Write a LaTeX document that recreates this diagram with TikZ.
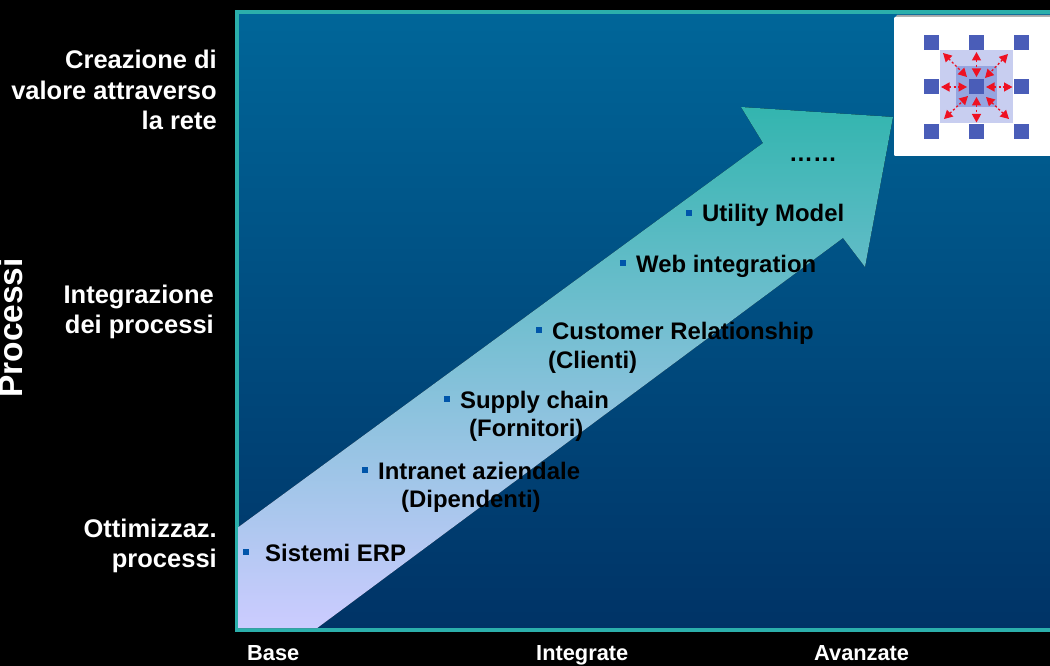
\documentclass[tikz,border=0pt]{standalone}
\usepackage{fontspec}
\setmainfont{Liberation Sans}
\usepackage{tikz}
\usetikzlibrary{arrows.meta}
\definecolor{framecol}{HTML}{2BAFAB}
\definecolor{skytop}{HTML}{006699}
\definecolor{skybot}{HTML}{003366}
\definecolor{bandtop}{HTML}{33B5AF}
\definecolor{bandbot}{HTML}{CCCCFF}
\definecolor{bulletcol}{HTML}{0055AA}
\definecolor{netblue}{HTML}{4A5DB8}
\definecolor{netlight}{HTML}{C8CEF0}
\definecolor{netmid}{HTML}{95A5E0}
\definecolor{netred}{HTML}{EE1122}
\tikzset{
    axislabel/.style={text=white,font=\fontsize{25.5}{30.5}\selectfont\bfseries,align=right,anchor=east,inner sep=0pt},
    levellabel/.style={text=white,font=\fontsize{21.8}{24}\selectfont\bfseries,anchor=base west,inner sep=0pt},
    steplabel/.style={text=black,font=\fontsize{23.9}{29}\selectfont\bfseries,anchor=base west,inner sep=0pt},
    bulletmark/.style={fill=bulletcol,minimum size=6pt,inner sep=0pt},
    netsquare/.style={fill=netblue,minimum size=15pt,inner sep=0pt},
}
\begin{document}
\begin{tikzpicture}[x=1pt,y=-1pt]
\useasboundingbox (0,0) rectangle (1050,666);
\fill[black] (0,0) rectangle (1050,666);
\fill[top color=skytop,bottom color=skybot] (236,12) rectangle (1050,630);
\draw[framecol,line width=3.6pt] (1050,12) -- (236.7,12) -- (236.7,630) -- (1050,630);
% freccia
\fill[top color=bandtop,bottom color=bandbot] (238.5,527) -- (763,143) -- (741,107) -- (893,117) -- (865,267) -- (843,238) -- (317,628.2) -- (238.5,628) -- cycle;
% riquadro
\fill[gray!70] (897,15) -- (1050,15) -- (1050,19) -- (894,19) -- cycle;
\fill[white,rounded corners=1pt] (894,17) rectangle (1052,156);
\fill[netlight] (940,50) rectangle (1013,123);
\fill[netmid] (956,66) rectangle (997,107);
\begin{scope}[every node/.style={netsquare}]
    \node (nw) at (931.5,42.5) {};
    \node (n) at (976.5,42.5) {};
    \node (ne) at (1021,42.5) {};
    \node (w) at (931.5,87) {};
    \node (c) at (976.5,87) {};
    \node (e) at (1021,87) {};
    \node (sw) at (931.5,131.5) {};
    \node (s) at (976.5,131.5) {};
    \node (se) at (1021,131.5) {};
\end{scope}
\coordinate (a1) at (976.5,52);
\coordinate (a2) at (976.5,77);
\coordinate (a3) at (941,87);
\coordinate (a4) at (967,87);
\coordinate (a5) at (986,87);
\coordinate (a6) at (1012.5,87);
\coordinate (a7) at (976.5,97);
\coordinate (a8) at (976.5,122.5);
\coordinate (a9) at (943,53);
\coordinate (a10) at (967,77);
\coordinate (a11) at (1008,54);
\coordinate (a12) at (985,78);
\coordinate (a13) at (944,119);
\coordinate (a14) at (968,96);
\coordinate (a15) at (1009,119);
\coordinate (a16) at (986,97);
\begin{scope}[>={Triangle[length=8.5pt,width=9pt]}, every edge/.style={draw=netred,line width=1.3pt,dash pattern=on 2.2pt off 2.2pt}]
    \path [<->,netred] (a1) edge (a2);
    \path [<->,netred] (a3) edge (a4);
    \path [<->,netred] (a5) edge (a6);
    \path [<->,netred] (a7) edge (a8);
    \path [<->,netred] (a9) edge (a10);
    \path [<->,netred] (a11) edge (a12);
    \path [<->,netred] (a13) edge (a14);
    \path [<->,netred] (a15) edge (a16);
\end{scope}
% etichette
\node[axislabel] (creazione) at (217,90) {Creazione di\\valore attraverso\\la rete};
\node[axislabel] (integrazione) at (214,312) {Integrazione\\dei processi};
\node[axislabel] (ottimizz) at (217,546) {Ottimizzaz.\\processi};
\node[text=white,font=\fontsize{33.5}{36}\selectfont\bfseries,rotate=90,anchor=base,inner sep=0pt] (processi) at (22.5,328) {Processi};
\node[levellabel] (base) at (247,660) {Base};
\node[levellabel] (integrate) at (536,660) {Integrate};
\node[levellabel] (avanzate) at (814,660) {Avanzate};
% voci
\node[bulletmark] (b1) at (246,552) {};
\node[steplabel] (erp) at (265,561) {Sistemi ERP};
\node[bulletmark] (b2) at (365,470) {};
\node[steplabel] (intranet) at (378,479) {Intranet aziendale};
\node[steplabel] (dipendenti) at (401,507) {(Dipendenti)};
\node[bulletmark] (b3) at (447,399) {};
\node[steplabel] (supply) at (460,408) {Supply chain};
\node[steplabel] (fornitori) at (469,436) {(Fornitori)};
\node[bulletmark] (b4) at (539,330) {};
\node[steplabel] (customer) at (552,339) {Customer Relationship};
\node[steplabel] (clienti) at (548,368) {(Clienti)};
\node[bulletmark] (b5) at (623,263) {};
\node[steplabel] (web) at (636,272) {Web integration};
\node[bulletmark] (b6) at (689,213) {};
\node[steplabel] (utility) at (702,222) {Utility Model};
\node[steplabel] (dots) at (789,161) {……};
\end{tikzpicture}
\end{document}
